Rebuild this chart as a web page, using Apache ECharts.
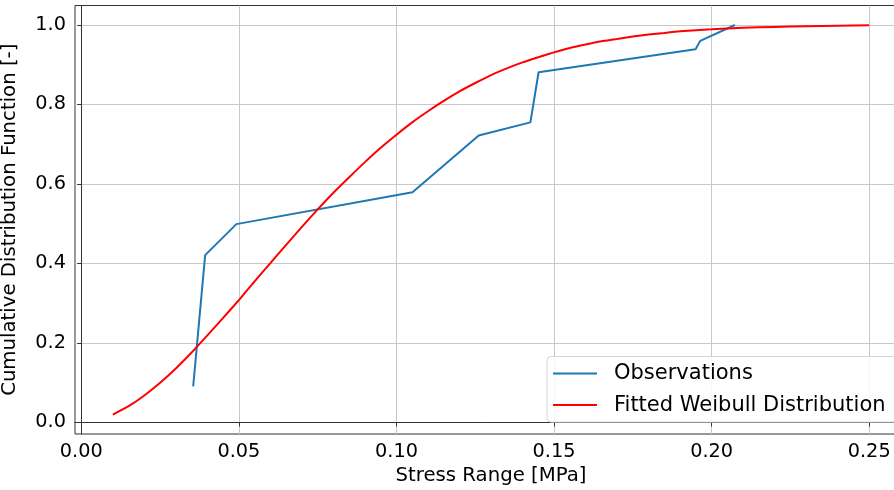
<!DOCTYPE html>
<html>
<head>
<meta charset="utf-8">
<script src="https://cdn.jsdelivr.net/npm/echarts@6/dist/echarts.min.js"></script>
<style>html,body{margin:0;padding:0;background:#fff}#c{width:894px;height:490px}</style>
</head>
<body>
<div id="c"></div>
<script>
// Observations (empirical CDF)
var obsX = [0.0355, 0.0393, 0.0492, 0.1051, 0.1261, 0.1425, 0.1451, 0.1949, 0.1964, 0.2074];
var obsY = [0.091, 0.421, 0.499, 0.579, 0.722, 0.755, 0.881, 0.939, 0.960, 1.000];
// Fitted Weibull distribution
var fitX = [0.010, 0.015, 0.020, 0.025, 0.030, 0.035, 0.040, 0.045, 0.050, 0.055, 0.060, 0.065,
            0.070, 0.075, 0.080, 0.085, 0.090, 0.095, 0.100, 0.105, 0.110, 0.115, 0.120, 0.125,
            0.130, 0.135, 0.140, 0.145, 0.150, 0.155, 0.160, 0.165, 0.170, 0.175, 0.180, 0.185,
            0.190, 0.195, 0.200, 0.210, 0.220, 0.230, 0.240, 0.250];
var fitY = [0.020, 0.041, 0.068, 0.100, 0.136, 0.176, 0.219, 0.263, 0.308, 0.355, 0.401, 0.447,
            0.492, 0.536, 0.578, 0.617, 0.655, 0.691, 0.724, 0.755, 0.783, 0.809, 0.833, 0.854,
            0.874, 0.891, 0.906, 0.919, 0.931, 0.942, 0.951, 0.959, 0.965, 0.971, 0.976, 0.980,
            0.984, 0.987, 0.989, 0.993, 0.995, 0.997, 0.998, 0.999];
var xTicks = [0, 0.05, 0.10, 0.15, 0.20, 0.25];
var yTicks = [0, 0.2, 0.4, 0.6, 0.8, 1.0];
var seriesNames = ['Observations', 'Fitted Weibull Distribution'];
var xName = 'Stress Range [MPa]';
var yName = 'Cumulative Distribution Function [-]';

function zip(a, b) { return a.map(function (v, i) { return [v, b[i]]; }); }

var FONT = 'DejaVu Sans';
var FS = 19.3;
var NFS = 19.7;
var LFS = 21;
var chart = echarts.init(document.getElementById('c'), null, { renderer: 'canvas' });
chart.setOption({
  animation: false,
  backgroundColor: '#fff',
  textStyle: { fontFamily: FONT },
  grid: {
    left: 75, top: 5.5, width: 832, height: 428.5,
    outerBoundsMode: 'none', containLabel: false,
    show: true, borderColor: '#333', borderWidth: 1, backgroundColor: 'transparent'
  },
  xAxis: {
    type: 'value', min: -0.002, max: 0.262,
    name: xName, nameLocation: 'middle', nameGap: 32,
    nameTextStyle: { fontSize: NFS, color: '#000', fontFamily: FONT },
    axisLine: { show: true, lineStyle: { color: '#333', width: 1 } },
    axisTick: { show: true, length: 4, lineStyle: { color: '#333' }, customValues: xTicks },
    axisLabel: { fontSize: FS, color: '#000', fontFamily: FONT, margin: 8, customValues: xTicks,
      formatter: function (v) { return v.toFixed(2); } },
    splitLine: { show: true, lineStyle: { color: '#c8c8c8', width: 1 } }
  },
  yAxis: {
    type: 'value', min: -0.029, max: 1.049,
    name: yName, nameLocation: 'middle', nameGap: 55,
    nameTextStyle: { fontSize: NFS, color: '#000', fontFamily: FONT },
    axisLine: { show: true, lineStyle: { color: '#333', width: 1 } },
    axisTick: { show: true, length: 4, lineStyle: { color: '#333' }, customValues: yTicks },
    axisLabel: { fontSize: FS, color: '#000', fontFamily: FONT, margin: 9, customValues: yTicks,
      formatter: function (v) { return v.toFixed(1); } },
    splitLine: { show: true, lineStyle: { color: '#c8c8c8', width: 1 } }
  },
  legend: {
    orient: 'vertical', left: 547, top: 356.5,
    padding: [6, 12, 6, 6], itemGap: 9.6, itemWidth: 44, itemHeight: 14,
    backgroundColor: 'rgba(255,255,255,0.85)', borderColor: '#d6d6d6', borderWidth: 1, borderRadius: 4,
    textStyle: { fontSize: LFS, lineHeight: 22, color: '#000', fontFamily: FONT, padding: [0, 0, 0, 12] },
    data: seriesNames.map(function (n) { return { name: n, icon: 'path://M0,0 L44,0 L44,2 L0,2 Z' }; })
  },
  series: [
    { name: seriesNames[0], type: 'line', data: zip(obsX, obsY), symbol: 'none',
      lineStyle: { color: '#1f77b4', width: 2 }, itemStyle: { color: '#1f77b4' }, z: 3 },
    { name: seriesNames[1], type: 'line', data: zip(fitX, fitY), symbol: 'none', smooth: 0.2,
      lineStyle: { color: '#ff0000', width: 2 }, itemStyle: { color: '#ff0000' }, z: 4 }
  ]
});
</script>
</body>
</html>
